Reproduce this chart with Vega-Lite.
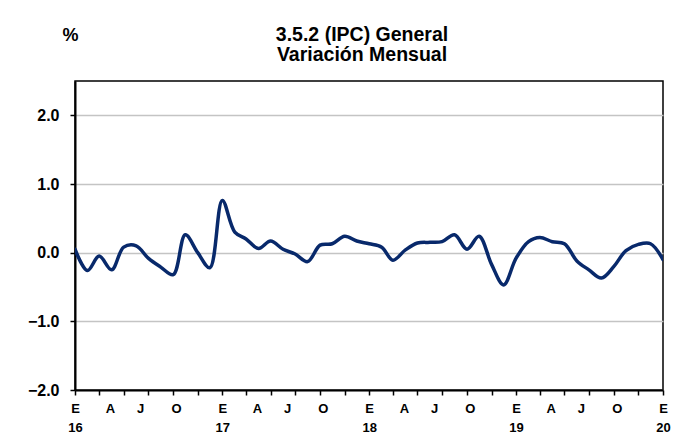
{
  "$schema": "https://vega.github.io/schema/vega-lite/v6.json",
  "width": 588,
  "height": 309,
  "autosize": {"type": "none"},
  "padding": {"left": 75, "top": 81, "right": 18, "bottom": 47},
  "background": "white",
  "title": {
    "text": ["3.5.2 (IPC) General", "Variación Mensual"],
    "frame": "group",
    "anchor": "middle",
    "orient": "top",
    "offset": -39,
    "dx": -7,
    "font": "Liberation Sans",
    "fontSize": 19.5,
    "fontWeight": "bold",
    "lineHeight": 20,
    "color": "black"
  },
  "config": {
    "font": "Liberation Sans",
    "view": {"stroke": "black", "strokeWidth": 1.5}
  },
  "data": {
    "values": [
      {"fecha": "2016-01-01", "var": 0.05},
      {"fecha": "2016-02-01", "var": -0.26},
      {"fecha": "2016-03-01", "var": -0.05},
      {"fecha": "2016-04-01", "var": -0.25},
      {"fecha": "2016-05-01", "var": 0.08},
      {"fecha": "2016-06-01", "var": 0.10},
      {"fecha": "2016-07-01", "var": -0.08},
      {"fecha": "2016-08-01", "var": -0.21},
      {"fecha": "2016-09-01", "var": -0.32},
      {"fecha": "2016-10-01", "var": 0.26},
      {"fecha": "2016-11-01", "var": 0.0},
      {"fecha": "2016-12-01", "var": -0.22},
      {"fecha": "2017-01-01", "var": 0.76},
      {"fecha": "2017-02-01", "var": 0.30},
      {"fecha": "2017-03-01", "var": 0.20},
      {"fecha": "2017-04-01", "var": 0.06},
      {"fecha": "2017-05-01", "var": 0.17},
      {"fecha": "2017-06-01", "var": 0.05},
      {"fecha": "2017-07-01", "var": -0.02},
      {"fecha": "2017-08-01", "var": -0.13},
      {"fecha": "2017-09-01", "var": 0.11},
      {"fecha": "2017-10-01", "var": 0.13},
      {"fecha": "2017-11-01", "var": 0.24},
      {"fecha": "2017-12-01", "var": 0.17},
      {"fecha": "2018-01-01", "var": 0.13},
      {"fecha": "2018-02-01", "var": 0.08},
      {"fecha": "2018-03-01", "var": -0.11},
      {"fecha": "2018-04-01", "var": 0.04},
      {"fecha": "2018-05-01", "var": 0.14},
      {"fecha": "2018-06-01", "var": 0.15},
      {"fecha": "2018-07-01", "var": 0.16},
      {"fecha": "2018-08-01", "var": 0.26},
      {"fecha": "2018-09-01", "var": 0.05},
      {"fecha": "2018-10-01", "var": 0.24},
      {"fecha": "2018-11-01", "var": -0.17},
      {"fecha": "2018-12-01", "var": -0.47},
      {"fecha": "2019-01-01", "var": -0.08},
      {"fecha": "2019-02-01", "var": 0.16},
      {"fecha": "2019-03-01", "var": 0.22},
      {"fecha": "2019-04-01", "var": 0.16},
      {"fecha": "2019-05-01", "var": 0.13},
      {"fecha": "2019-06-01", "var": -0.12},
      {"fecha": "2019-07-01", "var": -0.25},
      {"fecha": "2019-08-01", "var": -0.37},
      {"fecha": "2019-09-01", "var": -0.20},
      {"fecha": "2019-10-01", "var": 0.03},
      {"fecha": "2019-11-01", "var": 0.12},
      {"fecha": "2019-12-01", "var": 0.13},
      {"fecha": "2020-01-01", "var": -0.10}
    ]
  },
  "mark": {"type": "line", "interpolate": "catmull-rom", "color": "#08296b", "strokeWidth": 3.5, "strokeCap": "round", "clip": true},
  "encoding": {
    "x": {
      "field": "fecha",
      "type": "temporal",
      "scale": {
        "type": "utc",
        "domain": [
          {"year": 2016, "month": 1, "date": 1, "utc": true},
          {"year": 2020, "month": 1, "date": 1, "utc": true}
        ]
      },
      "axis": {
        "title": null,
        "grid": false,
        "domainColor": "black",
        "domainWidth": 2,
        "tickColor": "black",
        "tickWidth": 1.5,
        "tickSize": 5,
        "tickOpacity": {"condition": {"test": "utcdate(datum.value) == 1", "value": 1}, "value": 0},
        "labelOverlap": false,
        "labelFlush": false,
        "labelBound": false,
        "labelPadding": 7,
        "labelFont": "Liberation Sans",
        "labelFontSize": 13,
        "labelFontWeight": "bold",
        "labelColor": "black",
        "labelLineHeight": 19,
        "labelExpr": "utcdate(datum.value) == 1 ? (utcmonth(datum.value) == 0 ? ['E', utcFormat(datum.value, '%y')] : '') : (utcmonth(datum.value) == 2 ? 'A' : (utcmonth(datum.value) == 5 ? 'J' : 'O'))",
        "values": [
          {"year": 2016, "month": 1, "date": 1, "utc": true},
          {"year": 2016, "month": 3, "date": 1, "utc": true},
          {"year": 2016, "month": 5, "date": 1, "utc": true},
          {"year": 2016, "month": 7, "date": 1, "utc": true},
          {"year": 2016, "month": 9, "date": 1, "utc": true},
          {"year": 2016, "month": 11, "date": 1, "utc": true},
          {"year": 2017, "month": 1, "date": 1, "utc": true},
          {"year": 2017, "month": 3, "date": 1, "utc": true},
          {"year": 2017, "month": 5, "date": 1, "utc": true},
          {"year": 2017, "month": 7, "date": 1, "utc": true},
          {"year": 2017, "month": 9, "date": 1, "utc": true},
          {"year": 2017, "month": 11, "date": 1, "utc": true},
          {"year": 2018, "month": 1, "date": 1, "utc": true},
          {"year": 2018, "month": 3, "date": 1, "utc": true},
          {"year": 2018, "month": 5, "date": 1, "utc": true},
          {"year": 2018, "month": 7, "date": 1, "utc": true},
          {"year": 2018, "month": 9, "date": 1, "utc": true},
          {"year": 2018, "month": 11, "date": 1, "utc": true},
          {"year": 2019, "month": 1, "date": 1, "utc": true},
          {"year": 2019, "month": 3, "date": 1, "utc": true},
          {"year": 2019, "month": 5, "date": 1, "utc": true},
          {"year": 2019, "month": 7, "date": 1, "utc": true},
          {"year": 2019, "month": 9, "date": 1, "utc": true},
          {"year": 2019, "month": 11, "date": 1, "utc": true},
          {"year": 2020, "month": 1, "date": 1, "utc": true},
          {"year": 2016, "month": 3, "date": 28, "utc": true},
          {"year": 2016, "month": 6, "date": 11, "utc": true},
          {"year": 2016, "month": 9, "date": 8, "utc": true},
          {"year": 2017, "month": 3, "date": 28, "utc": true},
          {"year": 2017, "month": 6, "date": 11, "utc": true},
          {"year": 2017, "month": 9, "date": 8, "utc": true},
          {"year": 2018, "month": 3, "date": 28, "utc": true},
          {"year": 2018, "month": 6, "date": 11, "utc": true},
          {"year": 2018, "month": 9, "date": 8, "utc": true},
          {"year": 2019, "month": 3, "date": 28, "utc": true},
          {"year": 2019, "month": 6, "date": 11, "utc": true},
          {"year": 2019, "month": 9, "date": 8, "utc": true}
        ]
      }
    },
    "y": {
      "field": "var",
      "type": "quantitative",
      "scale": {"domain": [-2, 2.5], "nice": false, "zero": false},
      "axis": {
        "title": "%",
        "titleAngle": 0,
        "titleX": -5,
        "titleY": -41,
        "titleAlign": "center",
        "titleBaseline": "alphabetic",
        "titleFont": "Liberation Sans",
        "titleFontSize": 18,
        "titleFontWeight": "bold",
        "titleColor": "black",
        "values": [-2, -1, 0, 1, 2],
        "format": ".1f",
        "grid": true,
        "gridColor": "#c4c4c4",
        "gridWidth": 1.5,
        "domainColor": "black",
        "domainWidth": 2,
        "tickColor": "black",
        "tickWidth": 1.5,
        "tickSize": 5,
        "labelPadding": 11,
        "labelFont": "Liberation Sans",
        "labelFontSize": 16,
        "labelFontWeight": "bold",
        "labelColor": "black"
      }
    }
  }
}
